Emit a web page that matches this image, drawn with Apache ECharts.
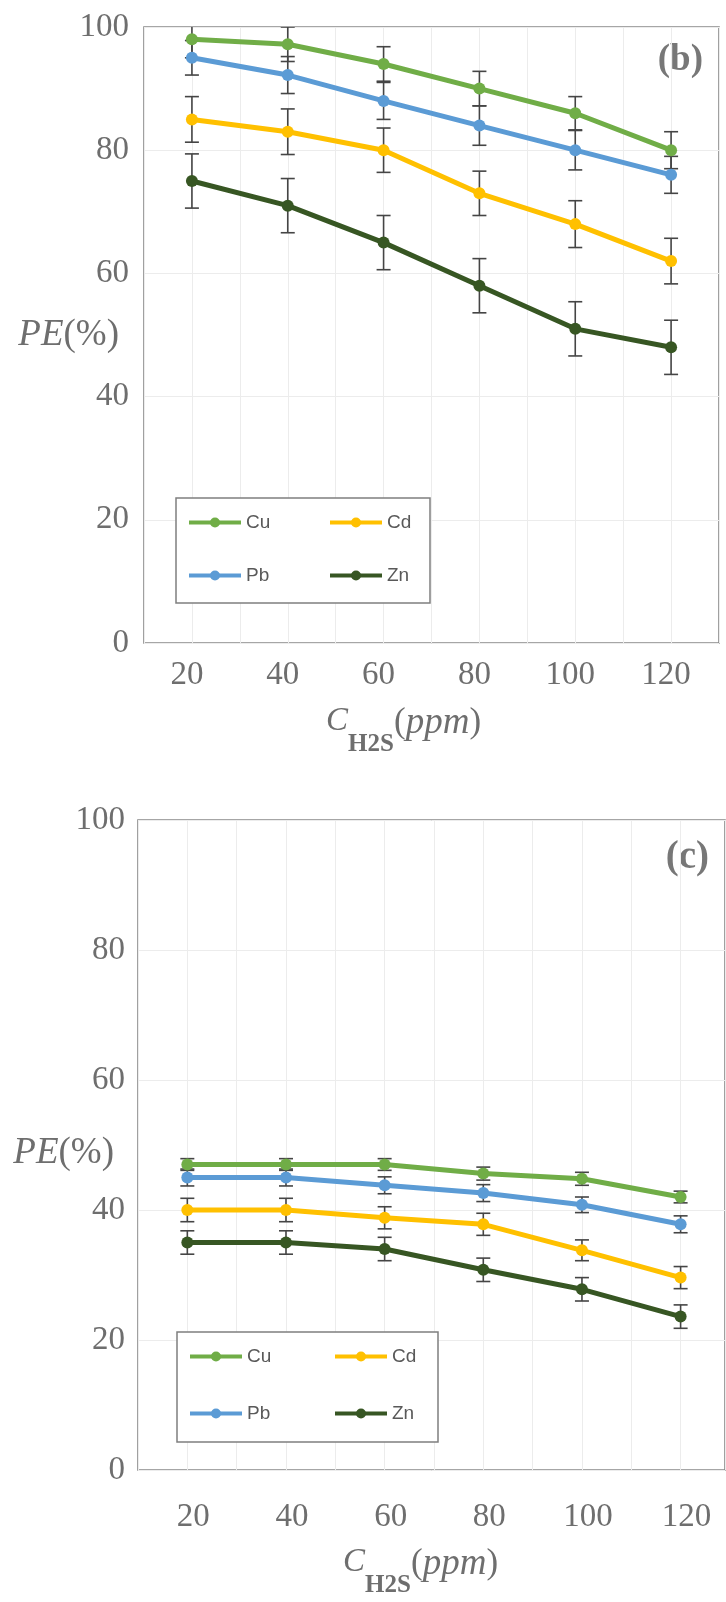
<!DOCTYPE html>
<html>
<head>
<meta charset="utf-8">
<script src="https://cdn.jsdelivr.net/npm/echarts@6/dist/echarts.min.js"></script>
<style>
  html, body { margin: 0; padding: 0; background: #fff; }
  #chart { width: 726px; height: 1602px; }
</style>
</head>
<body>
<div id="chart"></div>
<script>
// H2S concentration (ppm)
const concentrations = [20, 40, 60, 80, 100, 120];
const metals = ['Cu', 'Cd', 'Pb', 'Zn'];

// Panel (b): removal efficiency PE (%) and error half-widths
const cuB = [98, 97.2, 94, 90, 86, 80];
const pbB = [95, 92.2, 88, 84, 80, 76];
const cdB = [85, 83, 80, 73, 68, 62];
const znB = [75, 71, 65, 58, 51, 48];
const cuErrB = [3, 2.8, 2.8, 2.8, 2.7, 3];
const pbErrB = [2.8, 3, 3, 3.2, 3.2, 3];
const cdErrB = [3.7, 3.7, 3.6, 3.6, 3.8, 3.7];
const znErrB = [4.4, 4.4, 4.4, 4.4, 4.4, 4.4];

// Panel (c)
const cuC = [47, 47, 47, 45.6, 44.8, 42];
const pbC = [45, 45, 43.8, 42.6, 40.8, 37.8];
const cdC = [40, 40, 38.8, 37.8, 33.8, 29.6];
const znC = [35, 35, 34, 30.8, 27.8, 23.6];
const cuErrC = [0.9, 0.9, 0.9, 1, 1, 0.9];
const pbErrC = [1.3, 1.3, 1.3, 1.3, 1.2, 1.3];
const cdErrC = [1.8, 1.8, 1.7, 1.7, 1.6, 1.7];
const znErrC = [1.8, 1.8, 1.8, 1.8, 1.8, 1.8];

const yTicks = [0, 20, 40, 60, 80, 100];

const colors = { Cu: '#70AD47', Pb: '#5B9BD5', Cd: '#FFC000', Zn: '#375623' };
const labelColor = '#6e6e6e';
const serif = 'Liberation Serif, Times New Roman, serif';
const sans = 'Liberation Sans, Arial, sans-serif';
// legend entries laid out in the left column of the two-column key
const leftColumn = ['Cu', 'Pb'];

function lineSeries(name, values, axis) {
  return {
    name: name,
    type: 'line',
    xAxisIndex: axis,
    yAxisIndex: axis,
    data: concentrations.map((x, i) => [x, values[i]]),
    symbol: 'circle',
    symbolSize: 12,
    showSymbol: true,
    lineStyle: { width: 5, color: colors[name] },
    itemStyle: { color: colors[name] },
    z: 3,
    animation: false
  };
}

function errorSeries(name, values, errs, axis) {
  return {
    name: name + ' error',
    type: 'custom',
    xAxisIndex: axis,
    yAxisIndex: axis,
    clip: true,
    z: 2,
    silent: true,
    data: concentrations.map((x, i) => [x, values[i] - errs[i], values[i] + errs[i]]),
    renderItem: function (params, api) {
      const x = api.value(0);
      const lo = api.coord([x, api.value(1)]);
      const hi = api.coord([x, api.value(2)]);
      const half = 7;
      const style = { stroke: '#454545', lineWidth: 1.6 };
      return {
        type: 'group',
        children: [
          { type: 'line', shape: { x1: hi[0], y1: hi[1], x2: lo[0], y2: lo[1] }, style: style },
          { type: 'line', shape: { x1: hi[0] - half, y1: hi[1], x2: hi[0] + half, y2: hi[1] }, style: style },
          { type: 'line', shape: { x1: lo[0] - half, y1: lo[1], x2: lo[0] + half, y2: lo[1] }, style: style }
        ]
      };
    },
    animation: false
  };
}

function xAxis(gridIndex, max, labelPadding, nameGap, namePadding) {
  return {
    type: 'value',
    gridIndex: gridIndex,
    min: 10,
    max: max,
    interval: 10,
    axisLine: { show: false },
    axisTick: { show: false },
    splitLine: { show: true, lineStyle: { color: '#ececec', width: 1 } },
    axisLabel: {
      margin: gridIndex === 0 ? 16 : 31,
      color: labelColor,
      fontFamily: serif,
      fontSize: 33,
      padding: labelPadding,
      formatter: v => (v % 20 === 0 && concentrations.indexOf(v) >= 0) ? String(v) : ''
    },
    name: '{c|C}{sub|H2S}{s| }{p|(}{i|ppm}{p|)}',
    nameLocation: 'middle',
    nameGap: nameGap,
    nameMoveOverlap: false,
    nameTextStyle: {
      color: labelColor,
      fontFamily: serif,
      verticalAlign: 'top',
      padding: namePadding,
      rich: {
        c: { fontFamily: serif, fontStyle: 'italic', fontSize: 33, lineHeight: 36, verticalAlign: 'top', color: labelColor },
        sub: { fontFamily: serif, fontWeight: 'bold', fontSize: 25, lineHeight: 24, verticalAlign: 'bottom', color: labelColor },
        s: { fontSize: 1, lineHeight: 52, verticalAlign: 'middle' },
        p: { fontFamily: serif, fontSize: 35, lineHeight: 40, verticalAlign: 'top', color: labelColor },
        i: { fontFamily: serif, fontStyle: 'italic', fontSize: 37, lineHeight: 38, verticalAlign: 'top', color: labelColor }
      }
    }
  };
}

function yAxis(gridIndex, nameGap, namePadding) {
  return {
    type: 'value',
    gridIndex: gridIndex,
    min: yTicks[0],
    max: yTicks[yTicks.length - 1],
    interval: 20,
    axisLine: { show: false },
    axisTick: { show: false },
    splitLine: { show: true, lineStyle: { color: '#ececec', width: 1 } },
    axisLabel: {
      margin: gridIndex === 0 ? 15 : 13,
      color: labelColor,
      fontFamily: serif,
      fontSize: 33
    },
    name: '{i|PE}{n|(%)}',
    nameLocation: 'middle',
    nameRotate: 0,
    nameGap: nameGap,
    nameMoveOverlap: false,
    nameTextStyle: {
      align: 'right',
      verticalAlign: 'middle',
      padding: namePadding,
      rich: {
        i: { fontFamily: serif, fontStyle: 'italic', fontSize: 37, color: labelColor },
        n: { fontFamily: serif, fontSize: 37, color: labelColor }
      }
    }
  };
}

function legend(left, top, gap, padding) {
  return {
    data: metals,
    left: left,
    top: top,
    orient: 'horizontal',
    width: 260,
    itemGap: gap,
    itemWidth: 52,
    itemHeight: 12.5,
    padding: padding,
    backgroundColor: '#ffffff',
    borderColor: '#7f7f7f',
    borderWidth: 1.5,
    selectedMode: false,
    lineStyle: { width: 4 },
    formatter: name => (leftColumn.indexOf(name) >= 0 ? '{lc|' : '{rc|') + name + '}',
    textStyle: {
      color: '#595959',
      fontFamily: sans,
      fontSize: 19,
      lineHeight: 13,
      rich: {
        lc: { width: 48, height: 13, lineHeight: 13, fontSize: 19, color: '#595959', fontFamily: sans },
        rc: { width: 26, height: 13, lineHeight: 13, fontSize: 19, color: '#595959', fontFamily: sans }
      }
    }
  };
}

const chart = echarts.init(document.getElementById('chart'), null, { renderer: 'canvas' });

chart.setOption({
  animation: false,
  backgroundColor: '#ffffff',
  grid: [
    { left: 144, top: 27, width: 575, height: 616, show: true, borderColor: '#898989', borderWidth: 1.6, outerBoundsMode: 'none' },
    { left: 138, top: 820, width: 587, height: 650, show: true, borderColor: '#898989', borderWidth: 1.6, outerBoundsMode: 'none' }
  ],
  xAxis: [
    xAxis(0, 130, [0, 10, 0, 0], 62, [0, 56, 0, 0]),
    xAxis(1, 129, [0, 0, 0, 12], 76, [0, 22, 0, 0])
  ],
  yAxis: [
    yAxis(0, 25, [0, 0, 0, 0]),
    yAxis(1, 24, [16, 0, 0, 0])
  ],
  legend: [
    legend(176, 498, 34, [15, 17, 18, 11]),
    legend(177, 1332, 38, [15, 20, 19, 11])
  ],
  graphic: [
    { type: 'text', right: 23, top: 42, style: { text: '(b)', font: 'bold 37px ' + serif, fill: '#777777' } },
    { type: 'text', right: 17, top: 838, style: { text: '(c)', font: 'bold 39px ' + serif, fill: '#777777' } }
  ],
  series: [
    errorSeries('Cu', cuB, cuErrB, 0),
    errorSeries('Pb', pbB, pbErrB, 0),
    errorSeries('Cd', cdB, cdErrB, 0),
    errorSeries('Zn', znB, znErrB, 0),
    lineSeries('Cu', cuB, 0),
    lineSeries('Pb', pbB, 0),
    lineSeries('Cd', cdB, 0),
    lineSeries('Zn', znB, 0),
    errorSeries('Cu', cuC, cuErrC, 1),
    errorSeries('Pb', pbC, pbErrC, 1),
    errorSeries('Cd', cdC, cdErrC, 1),
    errorSeries('Zn', znC, znErrC, 1),
    lineSeries('Cu', cuC, 1),
    lineSeries('Pb', pbC, 1),
    lineSeries('Cd', cdC, 1),
    lineSeries('Zn', znC, 1)
  ]
});
</script>
</body>
</html>
